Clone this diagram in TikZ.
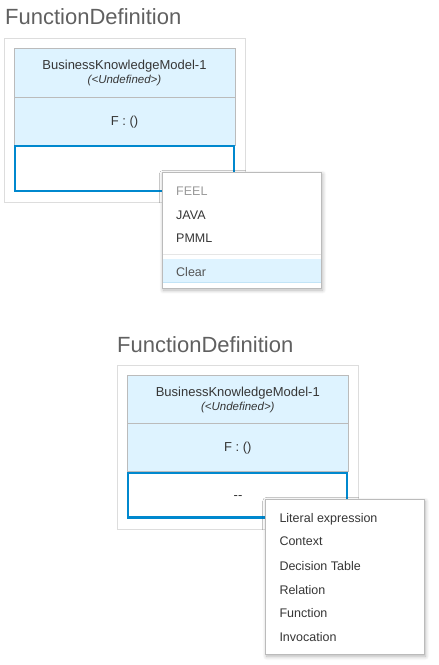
\documentclass[tikz,border=0pt]{standalone}
\usepackage{fontspec}
\setmainfont{Liberation Sans}
\usetikzlibrary{shadows.blur}
\definecolor{rowblue}{HTML}{DEF3FF}
\definecolor{selblue}{HTML}{0088CE}
\definecolor{cellgray}{HTML}{BBBBBB}
\definecolor{framegray}{HTML}{DDDDDD}
\definecolor{titlegray}{HTML}{606060}
\definecolor{txt}{HTML}{363636}
\definecolor{menugray}{HTML}{BBBBBB}
\definecolor{feelgray}{HTML}{9A9A9A}
\definecolor{sepgray}{HTML}{E6E6E6}
\definecolor{clearline}{HTML}{C2E4F7}
\tikzset{
  title/.style={anchor=base west, inner sep=0pt, font=\fontsize{22}{26}\selectfont, text=titlegray},
  frame/.style={draw=framegray, line width=0.8pt, fill=white},
  cell/.style={draw=cellgray, line width=0.8pt, fill=rowblue},
  selcell/.style={draw=selblue, line width=2.2pt, fill=white},
  hdr/.style={anchor=base, inner sep=0pt, font=\fontsize{13}{15}\selectfont, text=txt},
  sub/.style={anchor=base, inner sep=0pt, font=\fontsize{11.5}{13}\selectfont\itshape, text=txt},
  menu/.style={draw=menugray, line width=0.8pt, fill=white, blur shadow={shadow xshift=1pt, shadow yshift=-2pt, shadow blur radius=4pt, shadow blur steps=8, shadow opacity=30}},
  item/.style={anchor=base west, inner sep=0pt, font=\fontsize{12.5}{14}\selectfont, text=txt},
}
\begin{document}
\begin{tikzpicture}[x=1pt,y=-1pt]
\useasboundingbox (0,0) rectangle (439,665);
% ---------- top diagram ----------
\node[title] (t1) at (5,24) {FunctionDefinition};
\draw[frame] (4,38) rectangle (245,202);
\draw[cell] (14,48) rectangle (235,97);
\draw[cell] (14,97) rectangle (235,145);
\draw[selcell] (15,146) rectangle (234,191);
\node[hdr] (b1) at (124.5,69.3) {BusinessKnowledgeModel-1};
\node[sub] (u1) at (124.5,83.3) {(<Undefined>)};
\node[hdr] (f1) at (124.5,125) {F : ()};
% menu 1
\path[menu] (162.3,172.3) rectangle (321.5,288);
\fill[rowblue] (162.8,259) rectangle (321,282.7);
\draw[clearline, line width=0.8pt] (162.8,282.7) -- (321,282.7);
\draw[sepgray, line width=0.8pt] (163,254.5) -- (320.5,254.5);
\draw[menugray, line width=0.8pt] (162.3,172.3) rectangle (321.5,288);
\node[item, text=feelgray] (m1) at (176,195) {FEEL};
\node[item] (m2) at (176,219.3) {JAVA};
\node[item] (m3) at (176,242.7) {PMML};
\node[item, text=txt!85] (m4) at (176,276) {Clear};
% ---------- bottom diagram ----------
\node[title] (t2) at (117,352) {FunctionDefinition};
\draw[frame] (117.3,365.7) rectangle (358.7,529);
\draw[cell] (127.3,375.7) rectangle (348.3,423.7);
\draw[cell] (127.3,423.7) rectangle (348.3,471.7);
\draw[selcell] (128.3,472.7) rectangle (347.3,517.5);
\node[hdr] (b2) at (237.8,396.7) {BusinessKnowledgeModel-1};
\node[sub] (u2) at (237.8,410) {(<Undefined>)};
\node[hdr] (f2) at (237.8,451.7) {F : ()};
\node[hdr] (d2) at (238,499.5) {-{}-};
% menu 2
\path[menu] (265.7,499.3) rectangle (424.3,654.3);
\node[item] (n1) at (279.3,522.3) {Literal expression};
\node[item] (n2) at (279.3,545.7) {Context};
\node[item] (n3) at (279.3,570) {Decision Table};
\node[item] (n4) at (279.3,594) {Relation};
\node[item] (n5) at (279.3,617.7) {Function};
\node[item] (n6) at (279.3,641.7) {Invocation};
\end{tikzpicture}
\end{document}
